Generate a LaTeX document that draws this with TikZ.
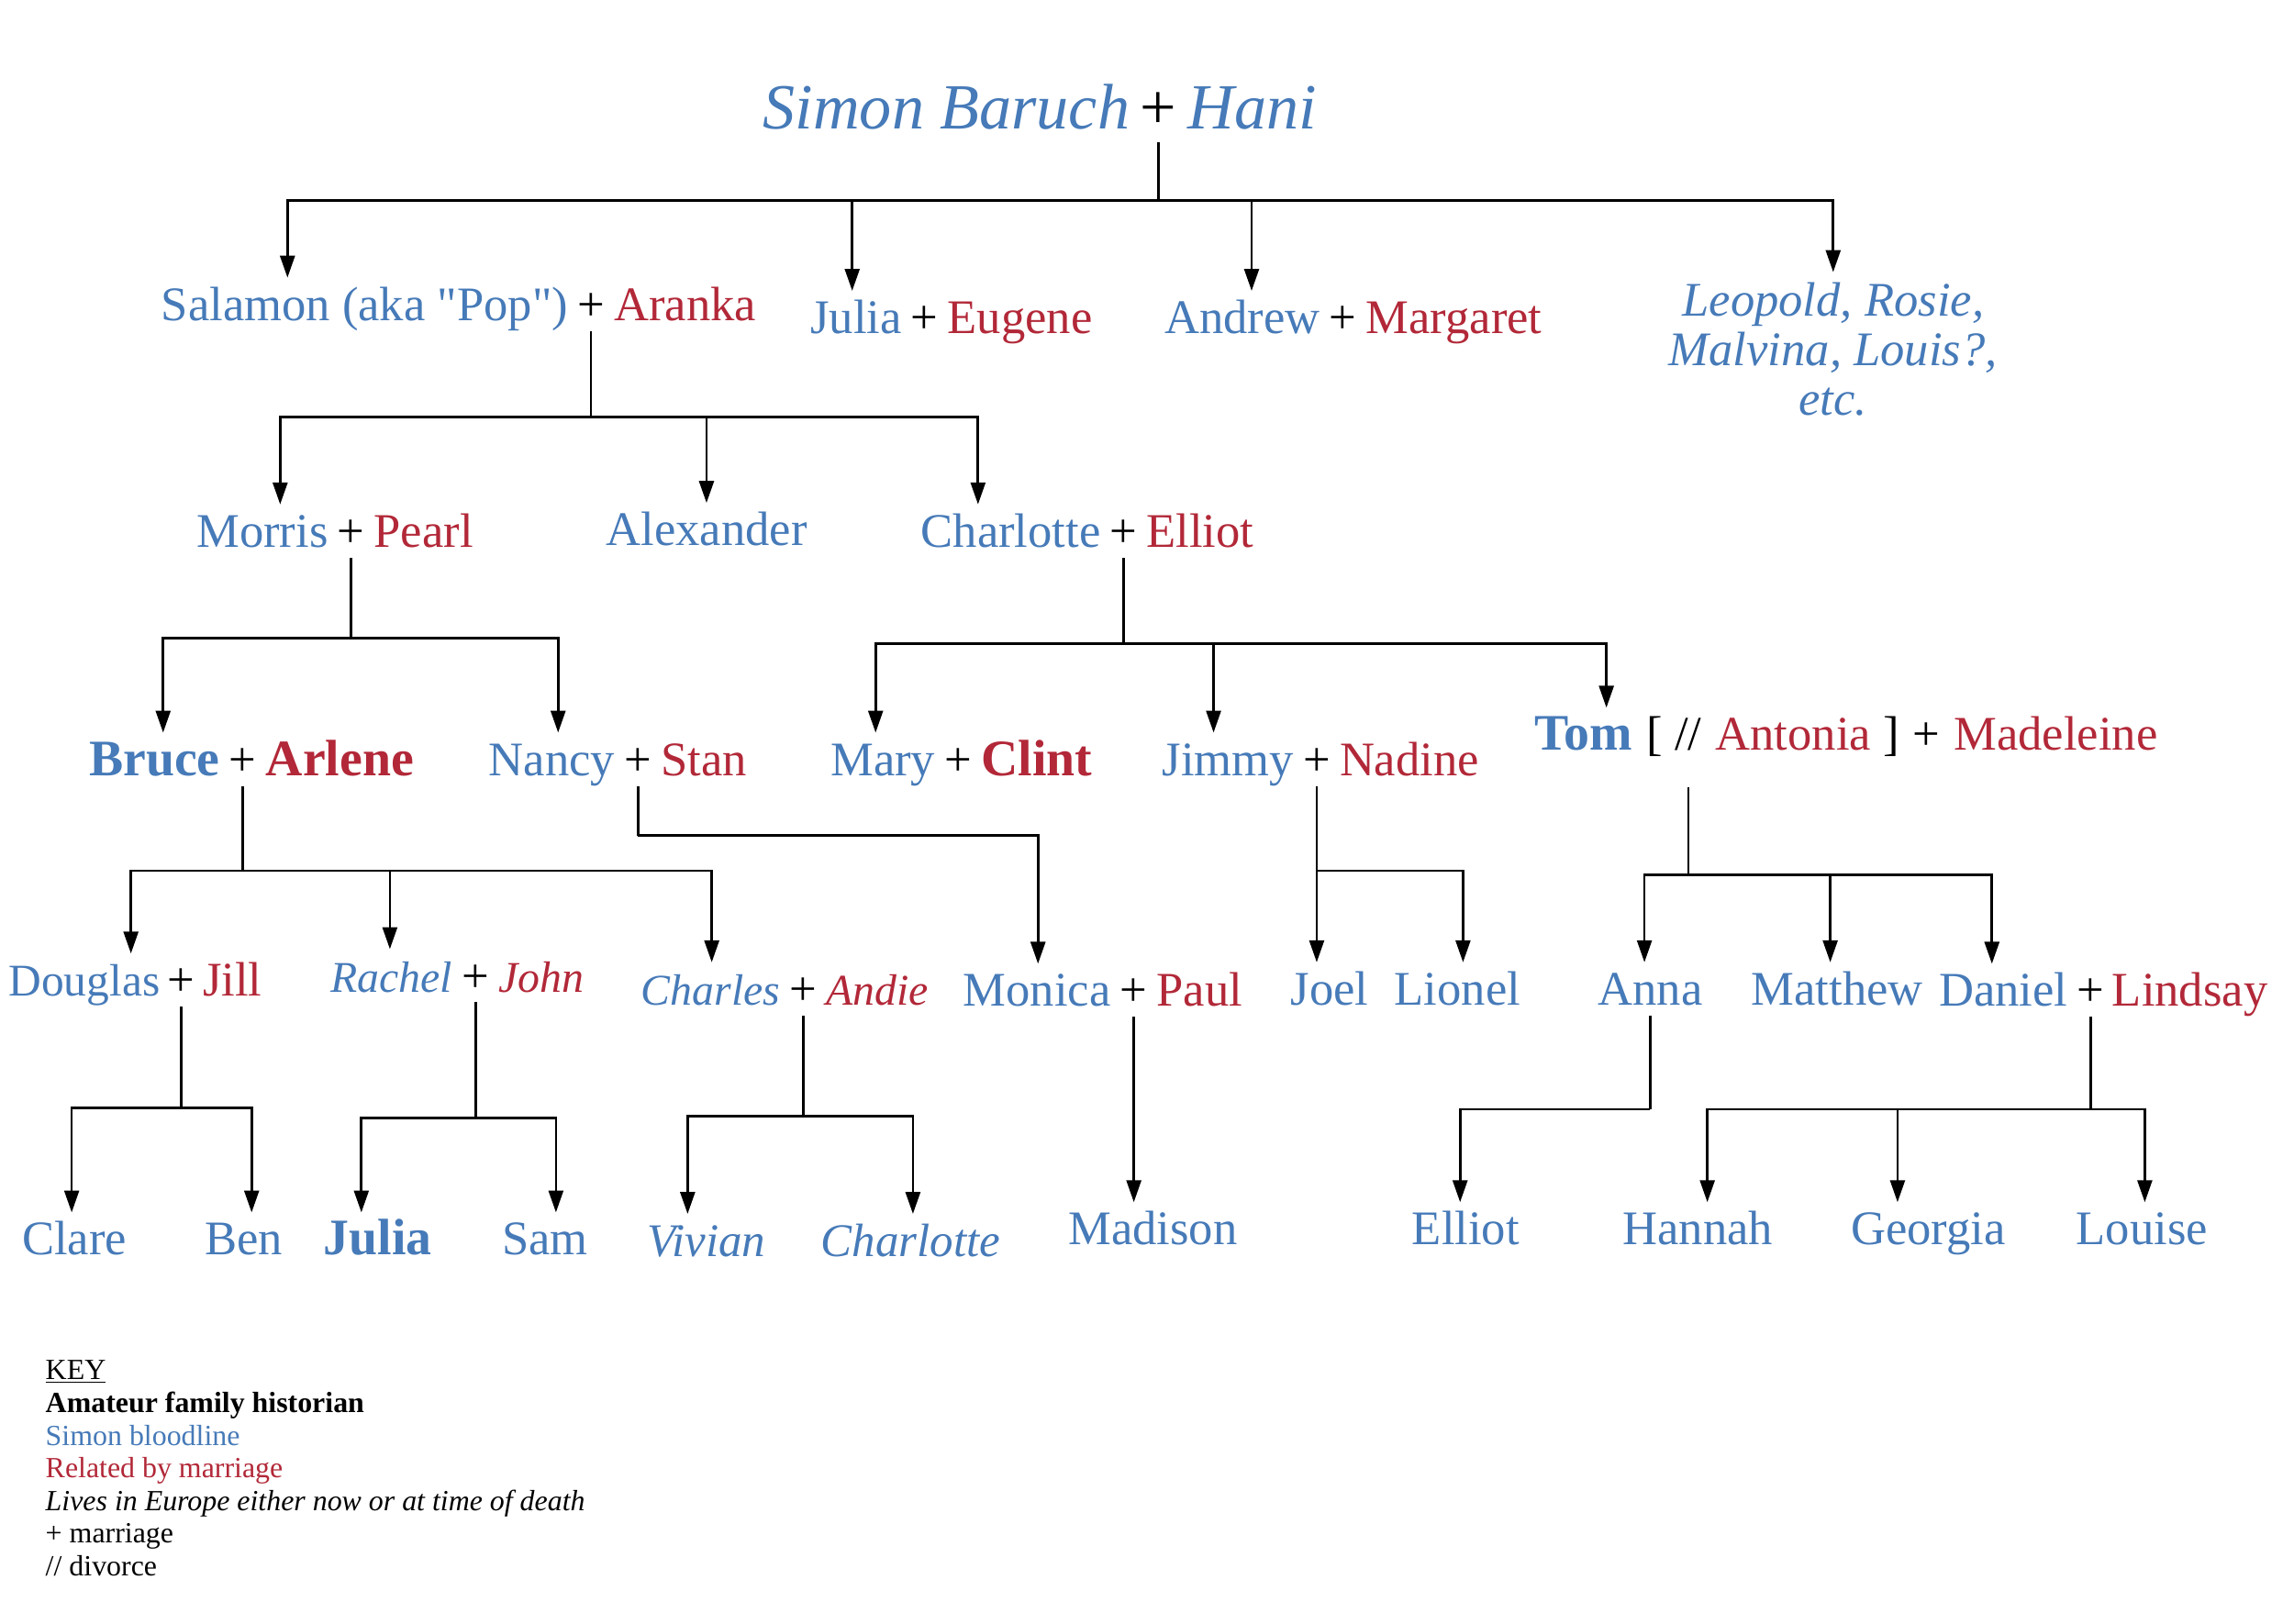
\documentclass[tikz,border=0pt]{standalone}
\usepackage{fontspec}
\setmainfont{Liberation Serif}[Ligatures=TeXOff]
\usepackage{tikz}
\usetikzlibrary{arrows.meta, positioning}
\usepackage{xcolor}
\definecolor{bloodblue}{RGB}{70,122,184}
\definecolor{marriagered}{RGB}{178,40,56}
\definecolor{ink}{RGB}{0,0,0}

\begin{document}
\begin{tikzpicture}[
    x=1pt, y=-1pt,
    node distance=4pt,
    person/.style={inner sep=1pt, text height=28pt, text depth=6pt, font=\fontsize{33}{38}\selectfont},
    bloodname/.style={person, text=bloodblue},
    inlawname/.style={person, text=marriagered},
    joiner/.style={person, text=ink},
    itname/.style={font=\fontsize{30}{36}\selectfont\itshape},
    bfname/.style={font=\fontsize{35}{40}\selectfont\bfseries},
    title/.style={inner sep=1pt, text height=36pt, text depth=8pt, font=\fontsize{44}{50}\selectfont\itshape, text=bloodblue},
    titleplus/.style={title, font=\fontsize{44}{50}\selectfont, text=ink},
    link/.style={line width=1.7pt, ink},
    arr/.style={-{Triangle[length=15pt, width=10pt]}, line width=1.7pt, ink},
]
\useasboundingbox (0,0) rectangle (1568,1110);

% Simon + Hani
\node[titleplus, anchor=base] (simonplus) at (792,88) {+};
\node[title, base left=5pt of simonplus] (simon) {Simon Baruch};
\node[title, base right=5pt of simonplus] (hani) {Hani};

% Children of Simon
\node[joiner, anchor=base] (salamonplus) at (404,219) {+};
\node[bloodname, base left=of salamonplus] (salamon) {Salamon (aka "Pop")};
\node[inlawname, base right=of salamonplus] (aranka) {Aranka};
\node[joiner, anchor=base] (juliaplus) at (632,228) {+};
\node[bloodname, base left=of juliaplus] (julia) {Julia};
\node[inlawname, base right=of juliaplus] (eugene) {Eugene};
\node[joiner, anchor=base] (andrewplus) at (918,228) {+};
\node[bloodname, base left=of andrewplus] (andrew) {Andrew};
\node[inlawname, base right=of andrewplus] (margaret) {Margaret};
\node[inner xsep=3pt, inner ysep=7pt, align=center, anchor=north, text=bloodblue, font=\fontsize{33}{34}\selectfont\itshape] (others) at (1253,186) {Leopold, Rosie,\\ Malvina, Louis?,\\ etc.};

% Children of Salamon
\node[joiner, anchor=base] (morrisplus) at (240,374) {+};
\node[bloodname, base left=of morrisplus] (morris) {Morris};
\node[inlawname, base right=of morrisplus] (pearl) {Pearl};
\node[bloodname, anchor=base west] (alexander) at (413,373) {Alexander};
\node[joiner, anchor=base] (charlotteplus) at (768,374) {+};
\node[bloodname, base left=of charlotteplus] (charlotte) {Charlotte};
\node[inlawname, base right=of charlotteplus] (elliot) {Elliot};

% Children of Morris and Charlotte
\node[joiner, anchor=base] (bruceplus) at (166,530) {+};
\node[bloodname, bfname, base left=of bruceplus] (bruce) {Bruce};
\node[inlawname, bfname, base right=of bruceplus] (arlene) {Arlene};
\node[joiner, anchor=base] (nancyplus) at (436,530) {+};
\node[bloodname, base left=of nancyplus] (nancy) {Nancy};
\node[inlawname, base right=of nancyplus] (stan) {Stan};
\node[joiner, anchor=base] (maryplus) at (655,530) {+};
\node[bloodname, base left=of maryplus] (mary) {Mary};
\node[inlawname, bfname, base right=of maryplus] (clint) {Clint};
\node[joiner, anchor=base] (jimmyplus) at (900,530) {+};
\node[bloodname, base left=of jimmyplus] (jimmy) {Jimmy};
\node[inlawname, base right=of jimmyplus] (nadine) {Nadine};
\node[bloodname, bfname, anchor=base west] (tom) at (1048,513) {Tom};
\node[joiner, base right=7pt of tom] (tomopen) {[};
\node[joiner, base right=6pt of tomopen] (tomdiv) {//};
\node[inlawname, base right=7pt of tomdiv] (antonia) {Antonia};
\node[joiner, base right=6pt of antonia] (tomclose) {]};
\node[joiner, base right=7pt of tomclose] (tomplus) {+};
\node[inlawname, base right=7pt of tomplus] (madeleine) {Madeleine};

% Grandchildren
\node[joiner, anchor=base] (douglasplus) at (124,681) {+};
\node[bloodname, font=\fontsize{31}{36}\selectfont, base left=3pt of douglasplus] (douglas) {Douglas};
\node[inlawname, base right=3pt of douglasplus] (jill) {Jill};
\node[joiner, anchor=base] (rachelplus) at (325,678) {+};
\node[bloodname, itname, base left=of rachelplus] (rachel) {Rachel};
\node[inlawname, itname, base right=of rachelplus] (john) {John};
\node[joiner, anchor=base] (charlesplus) at (549,687) {+};
\node[bloodname, itname, base left=of charlesplus] (charles) {Charles};
\node[inlawname, itname, base right=of charlesplus] (andie) {Andie};
\node[joiner, anchor=base] (monicaplus) at (775,688) {+};
\node[bloodname, base left=of monicaplus] (monica) {Monica};
\node[inlawname, base right=of monicaplus] (paul) {Paul};
\node[bloodname, anchor=base west] (joel) at (881,687) {Joel};
\node[bloodname, anchor=base west] (lionel) at (952,687) {Lionel};
\node[bloodname, anchor=base west] (anna) at (1091,687) {Anna};
\node[bloodname, anchor=base west] (matthew) at (1196,687) {Matthew};
\node[joiner, anchor=base] (danielplus) at (1429,688) {+};
\node[bloodname, base left=of danielplus] (daniel) {Daniel};
\node[inlawname, base right=3pt of danielplus] (lindsay) {Lindsay};

% Great-grandchildren
\node[bloodname, anchor=base west] (clare) at (14,858) {Clare};
\node[bloodname, anchor=base west] (ben) at (139,858) {Ben};
\node[bloodname, bfname, anchor=base west] (juliab) at (220,858) {Julia};
\node[bloodname, anchor=base west] (sam) at (342,858) {Sam};
\node[bloodname, itname, font=\fontsize{32}{36}\selectfont\itshape, anchor=base west] (vivian) at (441,859) {Vivian};
\node[bloodname, itname, font=\fontsize{32}{36}\selectfont\itshape, anchor=base west] (charlotteb) at (560,859) {Charlotte};
\node[bloodname, anchor=base west] (madison) at (729,851) {Madison};
\node[bloodname, anchor=base west] (elliotb) at (964,851) {Elliot};
\node[bloodname, anchor=base west] (hannah) at (1108,851) {Hannah};
\node[bloodname, anchor=base west] (georgia) at (1264,851) {Georgia};
\node[bloodname, anchor=base west] (louise) at (1418,851) {Louise};

% Key
\node[anchor=north west, inner sep=0pt, align=left, font=\fontsize{20}{22.3}\selectfont] (key) at (31,930) {\underline{KEY}\\ \textbf{Amateur family historian}\\ \textcolor{bloodblue}{Simon bloodline}\\ \textcolor{marriagered}{Related by marriage}\\ \textit{Lives in Europe either now or at time of death}\\ + marriage\\ // divorce};

% Simon's line
\draw[link] (simonplus.south) -- ++(0,40) coordinate (simonbus);
\draw[arr] (simonbus) -| ([xshift=-193pt]salamon.north east);
\draw[arr] (simonbus) -| ([xshift=-35pt]julia.north east);
\draw[arr] (simonbus) -| ([xshift=-48pt]andrew.north east);
\draw[arr] (simonbus) -| (others.north);

% Salamon's line
\draw[link] (salamonplus.south) -- ++(0,59) coordinate (salamonbus);
\draw[arr] (salamonbus) -| ([xshift=-34pt]morris.north east);
\draw[arr] (salamonbus) -| (alexander.north);
\draw[arr] (salamonbus) -| ([xshift=-85pt]charlotte.north east);

% Morris and Charlotte
\draw[link] (morrisplus.south) -- ++(0,55) coordinate (morrisbus);
\draw[arr] (morrisbus) -| ([xshift=-40pt]bruce.north east);
\draw[arr] (morrisbus) -| ([xshift=-40pt]nancy.north east);
\draw[link] (charlotteplus.south) -- ++(0,59) coordinate (charlottebus);
\draw[arr] (charlottebus) -| ([xshift=-42pt]mary.north east);
\draw[arr] (charlottebus) -| ([xshift=-56pt]jimmy.north east);
\draw[arr] (charlottebus) -| ([xshift=50pt]tom.north west);

% Bruce, Nancy, Jimmy, Tom
\draw[link] (bruceplus.south) -- ++(0,58) coordinate (brucebus);
\draw[arr] (brucebus) -| ([xshift=-21pt]douglas.north east);
\draw[arr] (brucebus) -| ([xshift=-44pt]rachel.north east);
\draw[arr] (brucebus) -| ([xshift=-48pt]charles.north east);
\draw[link] (nancyplus.south) -- ++(0,34) coordinate (nancybus);
\draw[arr] (nancybus) -| ([xshift=-51pt]monica.north east);
\draw[arr] (jimmyplus.south) -- (jimmyplus.south |- joel.north);
\draw[link] (jimmyplus.south) -- ++(0,58) coordinate (jimmybus);
\draw[arr] (jimmybus) -| ([xshift=48pt]lionel.north west);
\draw[link] ([yshift=-18pt]tomdiv.south) -- ++(0,60) coordinate (tombus);
\draw[arr] (tombus) -| ([xshift=33pt]anna.north west);
\draw[arr] (tombus) -| ([xshift=55pt]matthew.north west);
\draw[arr] (tombus) -| ([xshift=-53pt]daniel.north east);

% Grandchildren's lines
\draw[link] (douglasplus.south) -- ++(0,69) coordinate (douglasbus);
\draw[arr] (douglasbus) -| ([xshift=35pt]clare.north west);
\draw[arr] (douglasbus) -| ([xshift=33pt]ben.north west);
\draw[link] (rachelplus.south) -- ++(0,79) coordinate (rachelbus);
\draw[arr] (rachelbus) -| ([xshift=27pt]juliab.north west);
\draw[arr] (rachelbus) -| ([xshift=38pt]sam.north west);
\draw[link] (charlesplus.south) -- ++(0,69) coordinate (charlesbus);
\draw[arr] (charlesbus) -| ([xshift=29pt]vivian.north west);
\draw[arr] (charlesbus) -| ([xshift=64pt]charlotteb.north west);
\draw[arr] (monicaplus.south) -- (monicaplus.south |- madison.north);
\draw[link] (anna.south) -- ++(0,64) coordinate (annabus);
\draw[arr] (annabus) -| ([xshift=34pt]elliotb.north west);
\draw[link] (danielplus.south) -- ++(0,63) coordinate (danielbus);
\draw[arr] (danielbus) -| ([xshift=59pt]hannah.north west);
\draw[arr] (danielbus) -| ([xshift=33pt]georgia.north west);
\draw[arr] (danielbus) -| ([xshift=48pt]louise.north west);

\end{tikzpicture}
\end{document}
